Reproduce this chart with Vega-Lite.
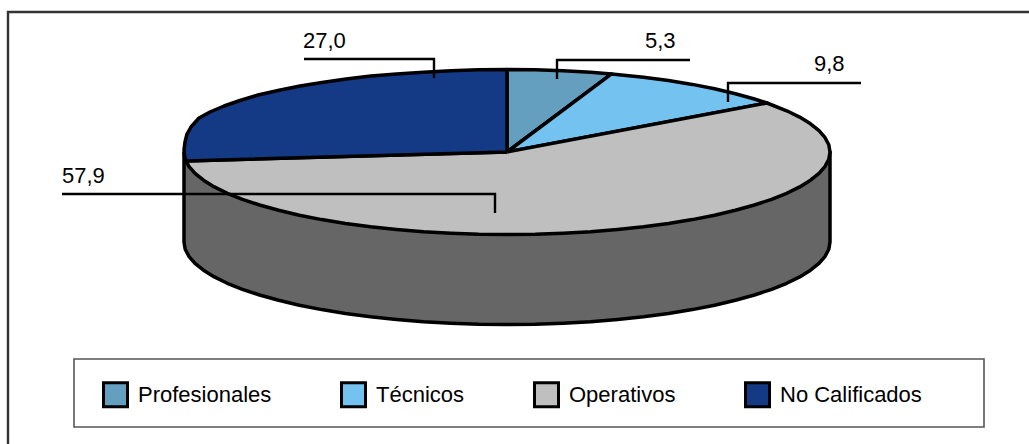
{"$schema":"https://vega.github.io/schema/vega-lite/v6.json","width":1029,"height":444,"padding":0,"autosize":{"type":"none"},"background":"white","config":{"view":{"stroke":null},"font":"Liberation Sans","locale":{"number":{"decimal":",","thousands":".","grouping":[3],"currency":["",""]}}},"datasets":{"marcos":[{"nombre":"marco","x":8,"x2":1040,"y":12,"y2":455,"color":"#333333","ancho":2.4},{"nombre":"leyenda","x":74,"x2":984,"y":359,"y2":427,"color":"#555555","ancho":1.6}],"pared":[{"orden":0,"x":184,"y":152},{"orden":1,"x":184,"y":242},{"orden":2,"x":185.2,"y":249.2},{"orden":3,"x":188.9,"y":256.3},{"orden":4,"x":195,"y":263.4},{"orden":5,"x":203.5,"y":270.2},{"orden":6,"x":214.3,"y":276.9},{"orden":7,"x":227.3,"y":283.3},{"orden":8,"x":242.4,"y":289.3},{"orden":9,"x":259.6,"y":295},{"orden":10,"x":278.6,"y":300.3},{"orden":11,"x":299.4,"y":305.2},{"orden":12,"x":321.7,"y":309.6},{"orden":13,"x":345.5,"y":313.4},{"orden":14,"x":370.5,"y":316.8},{"orden":15,"x":396.5,"y":319.5},{"orden":16,"x":423.4,"y":321.7},{"orden":17,"x":450.9,"y":323.2},{"orden":18,"x":478.8,"y":324.2},{"orden":19,"x":507,"y":324.5},{"orden":20,"x":535.2,"y":324.2},{"orden":21,"x":563.1,"y":323.2},{"orden":22,"x":590.6,"y":321.7},{"orden":23,"x":617.5,"y":319.5},{"orden":24,"x":643.5,"y":316.8},{"orden":25,"x":668.5,"y":313.4},{"orden":26,"x":692.3,"y":309.6},{"orden":27,"x":714.6,"y":305.2},{"orden":28,"x":735.4,"y":300.3},{"orden":29,"x":754.4,"y":295},{"orden":30,"x":771.6,"y":289.3},{"orden":31,"x":786.7,"y":283.3},{"orden":32,"x":799.7,"y":276.9},{"orden":33,"x":810.5,"y":270.2},{"orden":34,"x":819,"y":263.4},{"orden":35,"x":825.1,"y":256.3},{"orden":36,"x":828.8,"y":249.2},{"orden":37,"x":830,"y":242},{"orden":38,"x":830,"y":152},{"orden":39,"x":184,"y":152}],"sectores":[{"categoria":"Profesionales","orden":0,"x":507,"y":152},{"categoria":"Profesionales","orden":1,"x":507,"y":69.5},{"categoria":"Profesionales","orden":2,"x":535.2,"y":69.8},{"categoria":"Profesionales","orden":3,"x":563.1,"y":70.8},{"categoria":"Profesionales","orden":4,"x":590.6,"y":72.3},{"categoria":"Profesionales","orden":5,"x":611.6,"y":73.9},{"categoria":"Profesionales","orden":6,"x":507,"y":152},{"categoria":"Técnicos","orden":0,"x":507,"y":152},{"categoria":"Técnicos","orden":1,"x":611.6,"y":73.9},{"categoria":"Técnicos","orden":2,"x":643.5,"y":77.2},{"categoria":"Técnicos","orden":3,"x":668.5,"y":80.6},{"categoria":"Técnicos","orden":4,"x":692.3,"y":84.4},{"categoria":"Técnicos","orden":5,"x":714.6,"y":88.8},{"categoria":"Técnicos","orden":6,"x":735.4,"y":93.7},{"categoria":"Técnicos","orden":7,"x":754.4,"y":99},{"categoria":"Técnicos","orden":8,"x":767,"y":103},{"categoria":"Técnicos","orden":9,"x":507,"y":152},{"categoria":"Operativos","orden":0,"x":507,"y":152},{"categoria":"Operativos","orden":1,"x":767,"y":103},{"categoria":"Operativos","orden":2,"x":786.7,"y":110.8},{"categoria":"Operativos","orden":3,"x":799.7,"y":117.1},{"categoria":"Operativos","orden":4,"x":810.5,"y":123.8},{"categoria":"Operativos","orden":5,"x":819,"y":130.6},{"categoria":"Operativos","orden":6,"x":825.1,"y":137.7},{"categoria":"Operativos","orden":7,"x":828.8,"y":144.8},{"categoria":"Operativos","orden":8,"x":830,"y":152},{"categoria":"Operativos","orden":9,"x":828.8,"y":159.2},{"categoria":"Operativos","orden":10,"x":825.1,"y":166.3},{"categoria":"Operativos","orden":11,"x":819,"y":173.4},{"categoria":"Operativos","orden":12,"x":810.5,"y":180.2},{"categoria":"Operativos","orden":13,"x":799.7,"y":186.9},{"categoria":"Operativos","orden":14,"x":786.7,"y":193.3},{"categoria":"Operativos","orden":15,"x":771.6,"y":199.3},{"categoria":"Operativos","orden":16,"x":754.4,"y":205},{"categoria":"Operativos","orden":17,"x":735.4,"y":210.3},{"categoria":"Operativos","orden":18,"x":714.6,"y":215.2},{"categoria":"Operativos","orden":19,"x":692.3,"y":219.6},{"categoria":"Operativos","orden":20,"x":668.5,"y":223.4},{"categoria":"Operativos","orden":21,"x":643.5,"y":226.8},{"categoria":"Operativos","orden":22,"x":617.5,"y":229.5},{"categoria":"Operativos","orden":23,"x":590.6,"y":231.7},{"categoria":"Operativos","orden":24,"x":563.1,"y":233.2},{"categoria":"Operativos","orden":25,"x":535.2,"y":234.2},{"categoria":"Operativos","orden":26,"x":507,"y":234.5},{"categoria":"Operativos","orden":27,"x":478.8,"y":234.2},{"categoria":"Operativos","orden":28,"x":450.9,"y":233.2},{"categoria":"Operativos","orden":29,"x":423.4,"y":231.7},{"categoria":"Operativos","orden":30,"x":396.5,"y":229.5},{"categoria":"Operativos","orden":31,"x":370.5,"y":226.8},{"categoria":"Operativos","orden":32,"x":345.5,"y":223.4},{"categoria":"Operativos","orden":33,"x":321.7,"y":219.6},{"categoria":"Operativos","orden":34,"x":299.4,"y":215.2},{"categoria":"Operativos","orden":35,"x":278.6,"y":210.3},{"categoria":"Operativos","orden":36,"x":259.6,"y":205},{"categoria":"Operativos","orden":37,"x":242.4,"y":199.3},{"categoria":"Operativos","orden":38,"x":227.3,"y":193.3},{"categoria":"Operativos","orden":39,"x":214.3,"y":186.9},{"categoria":"Operativos","orden":40,"x":203.5,"y":180.2},{"categoria":"Operativos","orden":41,"x":195,"y":173.4},{"categoria":"Operativos","orden":42,"x":188.9,"y":166.3},{"categoria":"Operativos","orden":43,"x":186,"y":161},{"categoria":"Operativos","orden":44,"x":507,"y":152},{"categoria":"No Calificados","orden":0,"x":507,"y":152},{"categoria":"No Calificados","orden":1,"x":186,"y":161},{"categoria":"No Calificados","orden":2,"x":184.5,"y":156},{"categoria":"No Calificados","orden":3,"x":184,"y":150},{"categoria":"No Calificados","orden":4,"x":185,"y":142},{"categoria":"No Calificados","orden":5,"x":187,"y":134},{"categoria":"No Calificados","orden":6,"x":191,"y":127},{"categoria":"No Calificados","orden":7,"x":199,"y":118},{"categoria":"No Calificados","orden":8,"x":210,"y":112},{"categoria":"No Calificados","orden":9,"x":224,"y":106},{"categoria":"No Calificados","orden":10,"x":240,"y":100.5},{"categoria":"No Calificados","orden":11,"x":258,"y":95},{"categoria":"No Calificados","orden":12,"x":278,"y":90.5},{"categoria":"No Calificados","orden":13,"x":300,"y":86},{"categoria":"No Calificados","orden":14,"x":322,"y":82.5},{"categoria":"No Calificados","orden":15,"x":346,"y":79},{"categoria":"No Calificados","orden":16,"x":371,"y":76},{"categoria":"No Calificados","orden":17,"x":396.5,"y":74},{"categoria":"No Calificados","orden":18,"x":423.4,"y":72.3},{"categoria":"No Calificados","orden":19,"x":450.9,"y":70.8},{"categoria":"No Calificados","orden":20,"x":478.8,"y":69.8},{"categoria":"No Calificados","orden":21,"x":507,"y":69.5},{"categoria":"No Calificados","orden":22,"x":507,"y":152}],"guias":[{"categoria":"Profesionales","orden":0,"x":557,"y":79},{"categoria":"Profesionales","orden":1,"x":557,"y":60},{"categoria":"Profesionales","orden":2,"x":690,"y":60},{"categoria":"Técnicos","orden":0,"x":728,"y":102},{"categoria":"Técnicos","orden":1,"x":728,"y":83},{"categoria":"Técnicos","orden":2,"x":861,"y":83},{"categoria":"Operativos","orden":0,"x":495,"y":213},{"categoria":"Operativos","orden":1,"x":495,"y":194},{"categoria":"Operativos","orden":2,"x":62,"y":194},{"categoria":"No Calificados","orden":0,"x":434,"y":78},{"categoria":"No Calificados","orden":1,"x":434,"y":59},{"categoria":"No Calificados","orden":2,"x":304,"y":59}],"valores":[{"categoria":"Profesionales","valor":5.3,"x":645,"y":48},{"categoria":"Técnicos","valor":9.8,"x":814,"y":71},{"categoria":"Operativos","valor":57.9,"x":62,"y":183},{"categoria":"No Calificados","valor":27.0,"x":303,"y":48}]},"encoding":{"x":{"field":"x","type":"quantitative","axis":null,"scale":{"domain":[0,1029],"range":[0,1029],"nice":false,"zero":false}},"y":{"field":"y","type":"quantitative","axis":null,"scale":{"domain":[0,444],"range":[0,444],"nice":false,"zero":false}}},"layer":[{"data":{"name":"marcos"},"mark":{"type":"rect","filled":false},"encoding":{"x2":{"field":"x2"},"y2":{"field":"y2"},"stroke":{"field":"color","type":"nominal","scale":null},"strokeWidth":{"field":"ancho","type":"quantitative","scale":null}}},{"data":{"name":"pared"},"mark":{"type":"line","fill":"#666666","stroke":"black","strokeWidth":3.5,"strokeJoin":"round"},"encoding":{"order":{"field":"orden","type":"quantitative"}}},{"data":{"name":"sectores"},"mark":{"type":"line","stroke":"black","strokeWidth":3.5,"strokeJoin":"round"},"encoding":{"order":{"field":"orden","type":"quantitative"},"fill":{"field":"categoria","type":"nominal","scale":{"domain":["Profesionales","Técnicos","Operativos","No Calificados"],"range":["#659FBF","#73C2EF","#BFBFBF","#143A85"]},"legend":{"title":null,"orient":"none","legendX":102,"legendY":381,"direction":"horizontal","columns":4,"columnPadding":63,"symbolType":"square","symbolSize":576,"symbolStrokeColor":"black","symbolStrokeWidth":3,"labelFontSize":22,"labelFont":"Liberation Sans","labelColor":"black","labelOffset":9,"labelLimit":300,"padding":0}}}},{"data":{"name":"guias"},"mark":{"type":"line","stroke":"black","strokeWidth":2.4},"encoding":{"order":{"field":"orden","type":"quantitative"},"detail":{"field":"categoria","type":"nominal"}}},{"data":{"name":"valores"},"mark":{"type":"text","align":"left","baseline":"alphabetic","fontSize":22,"font":"Liberation Sans","color":"black"},"encoding":{"text":{"field":"valor","type":"quantitative","format":".1f"}}}]}
